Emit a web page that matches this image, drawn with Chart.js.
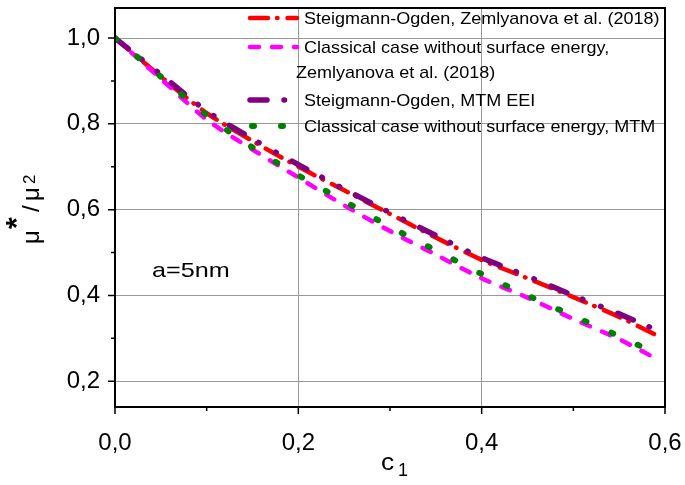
<!DOCTYPE html>
<html>
<head>
<meta charset="utf-8">
<script src="https://cdn.jsdelivr.net/npm/chart.js@4.4.1/dist/chart.umd.min.js"></script>
<style>
  html, body { margin: 0; padding: 0; background: #fff; }
  #wrap { width: 685px; height: 485px; position: relative; }
</style>
</head>
<body>
<div id="wrap"><canvas id="chart"></canvas></div>
<script>
// c1 values and the four curves
const c1Values = [0, 0.05, 0.1, 0.15, 0.2, 0.25, 0.3, 0.35, 0.4, 0.45, 0.5, 0.55, 0.59];
const soZemlyanova = [1.0, 0.91, 0.825, 0.76, 0.70, 0.645, 0.59, 0.535, 0.483, 0.44, 0.396, 0.35, 0.308];
const classicZemlyanova = [1.0, 0.905, 0.81, 0.74, 0.675, 0.61, 0.55, 0.495, 0.44, 0.395, 0.345, 0.298, 0.253];
const soMtmEei = [1.0, 0.915, 0.83, 0.765, 0.705, 0.648, 0.593, 0.54, 0.488, 0.445, 0.40, 0.357, 0.32];
const classicMtm = [1.0, 0.91, 0.82, 0.745, 0.68, 0.62, 0.56, 0.505, 0.45, 0.40, 0.352, 0.305, 0.265];

const xTicks = [0, 0.2, 0.4, 0.6];
const xMinorTicks = [0.1, 0.3, 0.5];
const yTicks = [0.2, 0.4, 0.6, 0.8, 1.0];
const yMinorTicks = [0.3, 0.5, 0.7, 0.9];

const FONT = "'Liberation Sans', Arial, sans-serif";
const comma = v => v.toFixed(1).replace('.', ',');
const pts = arr => c1Values.map((x, i) => ({ x: x, y: arr[i] }));

const series = [
  { label: 'Steigmann-Ogden, Zemlyanova et al. (2018)', data: soZemlyanova, color: '#ff0000', dash: [18, 9, 0.5, 10], width: 4.5, order: 3, sample: [250, 297] },
  { label: 'Classical case without surface energy,', label2: 'Zemlyanova et al. (2018)', data: classicZemlyanova, color: '#ff00ff', dash: [9, 13], width: 4.5, order: 2, sample: [250, 297] },
  { label: 'Steigmann-Ogden, MTM EEI', data: soMtmEei, color: '#800080', dash: [17, 17, 0.5, 19, 0.5, 18], width: 5.5, order: 1, sample: [250, 290] },
  { label: 'Classical case without surface energy, MTM', data: classicMtm, color: '#008000', dash: [2, 27], width: 6, order: 0, sample: [252, 284] }
];

// text drawn slightly wider, like the original figure
function wideText(ctx, text, x, y, sx) {
  ctx.save();
  ctx.translate(x, y);
  ctx.scale(sx, 1);
  ctx.fillText(text, 0, 0);
  ctx.restore();
}

// extra drawing: frame, tick marks, axis titles, legend, note
const decorations = {
  id: 'decorations',
  afterDraw(chart) {
    const ctx = chart.ctx;
    const a = chart.chartArea;
    const xs = chart.scales.x, ys = chart.scales.y;
    ctx.save();
    ctx.strokeStyle = '#000';
    ctx.lineWidth = 2;
    ctx.strokeRect(a.left, a.top, a.right - a.left, a.bottom - a.top);

    ctx.lineWidth = 1.5;
    ctx.beginPath();
    xTicks.forEach(v => { const p = xs.getPixelForValue(v); ctx.moveTo(p, a.bottom); ctx.lineTo(p, a.bottom + 7); });
    xMinorTicks.forEach(v => { const p = xs.getPixelForValue(v); ctx.moveTo(p, a.bottom); ctx.lineTo(p, a.bottom + 4); });
    yTicks.forEach(v => { const p = ys.getPixelForValue(v); ctx.moveTo(a.left, p); ctx.lineTo(a.left - 7, p); });
    yMinorTicks.forEach(v => { const p = ys.getPixelForValue(v); ctx.moveTo(a.left, p); ctx.lineTo(a.left - 4, p); });
    ctx.stroke();

    ctx.fillStyle = '#000';
    ctx.textBaseline = 'alphabetic';
    ctx.textAlign = 'left';
    // x title: c1
    ctx.font = '24px ' + FONT;
    wideText(ctx, 'c', 381, 470, 1.1);
    ctx.font = '18px ' + FONT;
    wideText(ctx, '1', 398, 476, 1.0);

    // y title: mu*/mu2
    ctx.save();
    ctx.translate(39, 244);
    ctx.rotate(-Math.PI / 2);
    ctx.font = '24px ' + FONT;
    ctx.fillText('\u03bc', 0, 0);
    ctx.font = 'bold 30px ' + FONT;
    ctx.fillText('*', 15, -13);
    ctx.font = '24px ' + FONT;
    ctx.fillText('/', 32, 0);
    ctx.fillText('\u03bc', 43, 0);
    ctx.font = '17px ' + FONT;
    ctx.fillText('2', 60, -4);
    ctx.restore();

    // note
    ctx.font = '21px ' + FONT;
    wideText(ctx, 'a=5nm', 152, 277, 1.2);

    // legend
    const rows = [18, 47, 100, 126];
    ctx.font = '17px ' + FONT;
    ctx.textBaseline = 'middle';
    series.forEach((s, i) => {
      const y = rows[i];
      ctx.save();
      ctx.strokeStyle = s.color;
      ctx.lineWidth = s.width;
      ctx.lineCap = 'round';
      ctx.setLineDash(s.dash);
      ctx.beginPath();
      ctx.moveTo(s.sample[0], y);
      ctx.lineTo(s.sample[1], y);
      ctx.stroke();
      ctx.restore();
      wideText(ctx, s.label, 304, y + 1, 1.06);
      if (s.label2) wideText(ctx, s.label2, 296, 73, 1.06);
    });
    ctx.restore();
  }
};

const noPad = s => { s.paddingLeft = 0; s.paddingRight = 0; s.paddingTop = 0; s.paddingBottom = 0; };

new Chart(document.getElementById('chart').getContext('2d'), {
  type: 'line',
  data: {
    datasets: series.map(s => ({
      label: s.label,
      data: pts(s.data),
      borderColor: s.color,
      backgroundColor: s.color,
      borderWidth: s.width,
      borderDash: s.dash,
      borderCapStyle: 'round',
      pointRadius: 0,
      tension: 0.3,
      fill: false,
      order: s.order
    }))
  },
  options: {
    responsive: true,
    maintainAspectRatio: false,
    animation: false,
    layout: { padding: { left: 0, right: 20, top: 8, bottom: 0 } },
    plugins: { legend: { display: false }, tooltip: { enabled: false } },
    scales: {
      x: {
        type: 'linear',
        min: 0,
        max: 0.6,
        afterBuildTicks: s => { s.ticks = xTicks.map(v => ({ value: v })); },
        afterFit: s => { s.height = 78; noPad(s); },
        border: { display: false },
        grid: {
          drawTicks: false,
          color: c => (c.tick && c.tick.value > 0.001 && c.tick.value < 0.599) ? '#999' : 'rgba(0,0,0,0)',
          lineWidth: 1
        },
        ticks: { color: '#000', font: { size: 24, family: FONT }, padding: 22, maxRotation: 0, callback: v => comma(v) }
      },
      y: {
        min: 0.14,
        max: 1.07,
        afterBuildTicks: s => { s.ticks = yTicks.map(v => ({ value: v })); },
        afterFit: s => { s.width = 115; noPad(s); },
        border: { display: false },
        grid: {
          drawTicks: false,
          color: '#999',
          lineWidth: 1
        },
        ticks: { color: '#000', font: { size: 24, family: FONT }, padding: 15, callback: v => comma(v) }
      }
    }
  },
  plugins: [decorations]
});
</script>
</body>
</html>
